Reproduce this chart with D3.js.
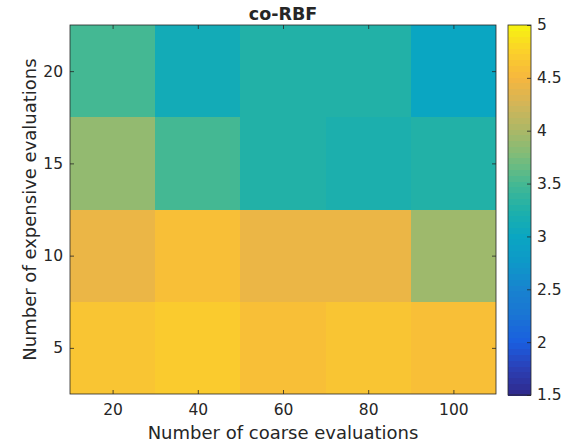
<!DOCTYPE html>
<html>
<head>
<meta charset="utf-8">
<script src="https://cdn.jsdelivr.net/npm/d3@7"></script>
<style>
  html, body { margin: 0; padding: 0; background: #fff; }
  svg { display: block; }
  text { font-family: "DejaVu Sans", sans-serif; fill: #262626; }
</style>
</head>
<body>
<svg id="chart" width="567" height="444"></svg>
<script>
// Grid axes
const coarseEvals = [20, 40, 60, 80, 100];
const expensiveEvals = [5, 10, 15, 20];

// Mean values per row of expensive evaluations (columns follow coarseEvals)
const rowExp5  = [4.64, 4.72, 4.60, 4.66, 4.60];
const rowExp10 = [4.42, 4.58, 4.42, 4.42, 3.93];
const rowExp15 = [3.88, 3.48, 3.30, 3.22, 3.30];
const rowExp20 = [3.52, 3.12, 3.30, 3.30, 2.98];

const xTicks = [20, 40, 60, 80, 100];
const yTicks = [5, 10, 15, 20];
const cbarTicks = [1.5, 2, 2.5, 3, 3.5, 4, 4.5, 5];
const colorLimits = [1.5, 5];

// parula-style colormap stops, evenly spaced from the low to the high limit
const cmapStops = [
  "#30288a", "#2b3fb5", "#1a5ee0", "#1a74d4", "#1883cf", "#0e98c8", "#0aa6c2",
  "#1eb0aa", "#45b893", "#7bbc7a", "#aab867", "#d2b558", "#f6b63f", "#fbd02a", "#f6f410"
];
const nLevels = 64;

const interp = d3.piecewise(d3.interpolateRgb, cmapStops);
const levels = d3.range(nLevels).map(i => d3.rgb(interp((i + 0.5) / nLevels)).formatHex());
const color = d3.scaleQuantize().domain(colorLimits).range(levels);

const rows = [rowExp5, rowExp10, rowExp15, rowExp20];
const cells = [];
expensiveEvals.forEach((e, i) => {
  coarseEvals.forEach((c, j) => cells.push({ c, e, v: rows[i][j] }));
});

const svg = d3.select("#chart");
const plot = { left: 70, right: 496, top: 25, bottom: 394 };
const axisColor = "#262626";

const dx = coarseEvals[1] - coarseEvals[0];
const dy = expensiveEvals[1] - expensiveEvals[0];
const x = d3.scaleLinear()
  .domain([coarseEvals[0] - dx / 2, coarseEvals[coarseEvals.length - 1] + dx / 2])
  .range([plot.left, plot.right]);
const y = d3.scaleLinear()
  .domain([expensiveEvals[0] - dy / 2, expensiveEvals[expensiveEvals.length - 1] + dy / 2])
  .range([plot.bottom, plot.top]);

// Heatmap cells
svg.append("g").selectAll("rect").data(cells).join("rect")
  .attr("x", d => x(d.c - dx / 2))
  .attr("y", d => y(d.e + dy / 2))
  .attr("width", d => x(d.c + dx / 2) - x(d.c - dx / 2))
  .attr("height", d => y(d.e - dy / 2) - y(d.e + dy / 2))
  .attr("fill", d => color(d.v))
  .attr("shape-rendering", "crispEdges");

// Axes with inward ticks on all four sides
const tickLen = 4;
const styleAxis = g => {
  g.select(".domain").remove();
  g.selectAll(".tick line").attr("stroke", axisColor).attr("stroke-width", 0.8);
  g.selectAll(".tick text").style("font-size", "15.5px").attr("fill", axisColor);
};

svg.append("g")
  .attr("transform", `translate(0,${plot.bottom})`)
  .call(d3.axisBottom(x).tickValues(xTicks).tickSize(-tickLen).tickPadding(10))
  .call(styleAxis)
  .call(g => g.selectAll(".tick text").attr("dy", "0.71em"));

svg.append("g")
  .attr("transform", `translate(0,${plot.top})`)
  .call(d3.axisTop(x).tickValues(xTicks).tickSize(-tickLen).tickFormat(""))
  .call(styleAxis);

svg.append("g")
  .attr("transform", `translate(${plot.left},0)`)
  .call(d3.axisLeft(y).tickValues(yTicks).tickSize(-tickLen).tickPadding(7))
  .call(styleAxis);

svg.append("g")
  .attr("transform", `translate(${plot.right},0)`)
  .call(d3.axisRight(y).tickValues(yTicks).tickSize(-tickLen).tickFormat(""))
  .call(styleAxis);

svg.append("rect")
  .attr("x", plot.left).attr("y", plot.top)
  .attr("width", plot.right - plot.left).attr("height", plot.bottom - plot.top)
  .attr("fill", "none").attr("stroke", axisColor).attr("stroke-width", 0.8);

// Title and axis labels
svg.append("text")
  .attr("x", (plot.left + plot.right) / 2).attr("y", 20)
  .attr("text-anchor", "middle")
  .style("font-size", "17.5px").style("font-weight", "bold")
  .attr("fill", "#000")
  .text("co-RBF");

svg.append("text")
  .attr("x", (plot.left + plot.right) / 2).attr("y", 439)
  .attr("text-anchor", "middle")
  .style("font-size", "18px")
  .text("Number of coarse evaluations");

svg.append("text")
  .attr("transform", `translate(36,${(plot.top + plot.bottom) / 2}) rotate(-90)`)
  .attr("text-anchor", "middle")
  .style("font-size", "18px")
  .text("Number of expensive evaluations");

// Colorbar
const cb = { left: 508, right: 531, top: 25, bottom: 395 };
const cy = d3.scaleLinear().domain(colorLimits).range([cb.bottom, cb.top]);
const step = (colorLimits[1] - colorLimits[0]) / nLevels;

svg.append("g").selectAll("rect").data(levels).join("rect")
  .attr("x", cb.left)
  .attr("y", (d, i) => cy(colorLimits[0] + (i + 1) * step))
  .attr("width", cb.right - cb.left)
  .attr("height", (d, i) => cy(colorLimits[0] + i * step) - cy(colorLimits[0] + (i + 1) * step) + 0.5)
  .attr("fill", d => d)
  .attr("shape-rendering", "crispEdges");

svg.append("g")
  .attr("transform", `translate(${cb.right},0)`)
  .call(d3.axisRight(cy).tickValues(cbarTicks).tickSize(-tickLen).tickPadding(6)
    .tickFormat(d3.format("")))
  .call(styleAxis);

svg.append("rect")
  .attr("x", cb.left).attr("y", cb.top)
  .attr("width", cb.right - cb.left).attr("height", cb.bottom - cb.top)
  .attr("fill", "none").attr("stroke", axisColor).attr("stroke-width", 0.8);
</script>
</body>
</html>
